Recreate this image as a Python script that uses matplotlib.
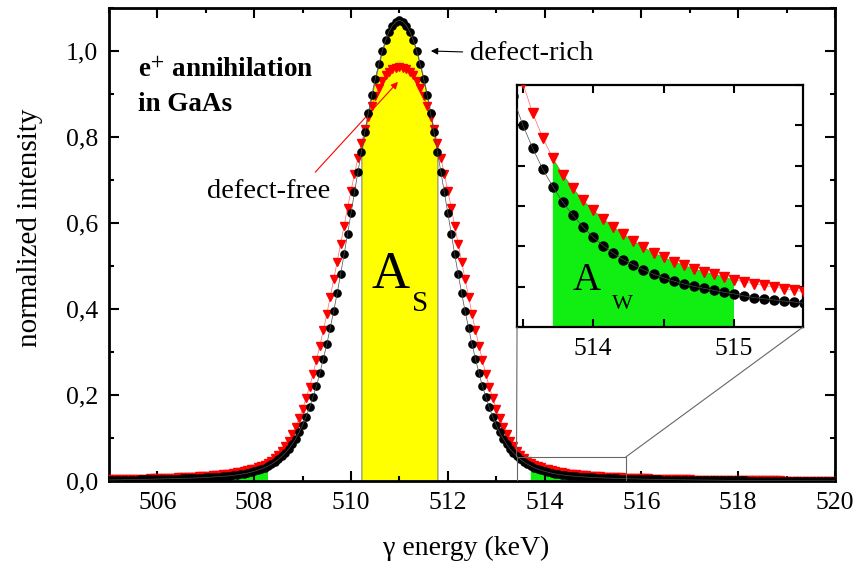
import numpy as np
import matplotlib.pyplot as plt
from matplotlib.patches import Rectangle, ConnectionPatch
from matplotlib.ticker import MultipleLocator, FuncFormatter, NullFormatter

plt.rcParams['font.family'] = ['Liberation Serif', 'DejaVu Serif']
plt.rcParams['mathtext.fontset'] = 'stix'

# Canais do espectro (keV), 14 canais por keV
e_first = 505.0
e_last = 520.0

# Intensidade normalizada - amostra rica em defeitos (círculos pretos)
defect_rich = [
    0.0024, 0.0025, 0.0026, 0.0027, 0.0028, 0.0030, 0.0031, 0.0032, 0.0034, 0.0035, 0.0037, 0.0038, 0.0040, 0.0042,
    0.0044, 0.0046, 0.0048, 0.0050, 0.0052, 0.0054, 0.0057, 0.0059, 0.0062, 0.0064, 0.0067, 0.0070, 0.0073, 0.0077,
    0.0082, 0.0086, 0.0091, 0.0096, 0.0101, 0.0107, 0.0114, 0.0122, 0.0131, 0.0142, 0.0154, 0.0167, 0.0183, 0.0202,
    0.0223, 0.0248, 0.0277, 0.0309, 0.0348, 0.0391, 0.0443, 0.0502, 0.0572, 0.0652, 0.0746, 0.0856, 0.0984, 0.113,
    0.130, 0.149, 0.171, 0.195, 0.221, 0.251, 0.284, 0.318, 0.356, 0.395, 0.437, 0.481, 0.527, 0.574,
    0.623, 0.671, 0.719, 0.766, 0.812, 0.856, 0.897, 0.935, 0.969, 0.999, 1.025, 1.045, 1.059, 1.068,
    1.071, 1.068, 1.059, 1.045, 1.025, 0.999, 0.969, 0.935, 0.897, 0.856, 0.812, 0.766, 0.719, 0.671,
    0.623, 0.574, 0.527, 0.481, 0.437, 0.395, 0.356, 0.318, 0.284, 0.251, 0.221, 0.195, 0.171, 0.149,
    0.130, 0.113, 0.0984, 0.0856, 0.0746, 0.0652, 0.0572, 0.0502, 0.0443, 0.0391, 0.0348, 0.0309, 0.0277, 0.0248,
    0.0223, 0.0202, 0.0183, 0.0167, 0.0154, 0.0142, 0.0131, 0.0122, 0.0114, 0.0107, 0.0101, 0.0096, 0.0091, 0.0086,
    0.0082, 0.0077, 0.0073, 0.0070, 0.0067, 0.0064, 0.0062, 0.0059, 0.0057, 0.0054, 0.0052, 0.0050, 0.0048, 0.0046,
    0.0044, 0.0042, 0.0040, 0.0038, 0.0037, 0.0035, 0.0034, 0.0032, 0.0031, 0.0030, 0.0028, 0.0027, 0.0026, 0.0025,
    0.0024, 0.0023, 0.0022, 0.0021, 0.0020, 0.0019, 0.0018, 0.0018, 0.0017, 0.0016, 0.0015, 0.0015, 0.0014, 0.0014,
    0.0013, 0.0012, 0.0012, 0.0011, 0.0011, 0.0010, 0.0010, 0.0009, 0.0009, 0.0009, 0.0008, 0.0008, 0.0007, 0.0007,
    0.0007, 0.0007, 0.0006, 0.0006, 0.0006, 0.0005, 0.0005, 0.0005, 0.0005, 0.0005, 0.0004, 0.0004, 0.0004, 0.0004,
    0.0004,
]

# Intensidade normalizada - amostra livre de defeitos (triângulos vermelhos)
defect_free = [
    0.0035, 0.0037, 0.0038, 0.0040, 0.0042, 0.0044, 0.0046, 0.0048, 0.0050, 0.0052, 0.0054, 0.0057, 0.0059, 0.0062,
    0.0064, 0.0067, 0.0070, 0.0073, 0.0076, 0.0080, 0.0083, 0.0087, 0.0091, 0.0095, 0.0099, 0.0103, 0.0107, 0.0112,
    0.0117, 0.0124, 0.0131, 0.0137, 0.0145, 0.0153, 0.0162, 0.0173, 0.0184, 0.0198, 0.0214, 0.0230, 0.0248, 0.0268,
    0.0290, 0.0314, 0.0344, 0.0378, 0.0418, 0.0469, 0.0530, 0.0606, 0.0697, 0.0806, 0.0935, 0.1085, 0.1257, 0.1455,
    0.1675, 0.192, 0.219, 0.248, 0.281, 0.315, 0.350, 0.388, 0.428, 0.469, 0.510, 0.552, 0.593, 0.635,
    0.675, 0.714, 0.751, 0.785, 0.818, 0.847, 0.873, 0.896, 0.915, 0.931, 0.943, 0.952, 0.958, 0.961,
    0.962, 0.961, 0.958, 0.952, 0.943, 0.931, 0.915, 0.896, 0.873, 0.847, 0.818, 0.785, 0.751, 0.714,
    0.675, 0.635, 0.593, 0.552, 0.510, 0.469, 0.428, 0.388, 0.350, 0.315, 0.281, 0.248, 0.219, 0.192,
    0.1675, 0.1455, 0.1257, 0.1085, 0.0935, 0.0806, 0.0697, 0.0606, 0.0530, 0.0469, 0.0418, 0.0378, 0.0344, 0.0314,
    0.0290, 0.0268, 0.0248, 0.0230, 0.0214, 0.0198, 0.0184, 0.0173, 0.0162, 0.0153, 0.0145, 0.0137, 0.0131, 0.0124,
    0.0117, 0.0112, 0.0107, 0.0103, 0.0099, 0.0095, 0.0091, 0.0087, 0.0083, 0.0080, 0.0076, 0.0073, 0.0070, 0.0067,
    0.0064, 0.0062, 0.0059, 0.0057, 0.0054, 0.0052, 0.0050, 0.0048, 0.0046, 0.0044, 0.0042, 0.0040, 0.0038, 0.0037,
    0.0035, 0.0034, 0.0032, 0.0031, 0.0030, 0.0028, 0.0027, 0.0026, 0.0025, 0.0024, 0.0023, 0.0022, 0.0021, 0.0020,
    0.0019, 0.0019, 0.0018, 0.0017, 0.0016, 0.0016, 0.0015, 0.0014, 0.0014, 0.0013, 0.0013, 0.0012, 0.0012, 0.0011,
    0.0011, 0.0010, 0.0010, 0.0009, 0.0009, 0.0009, 0.0008, 0.0008, 0.0008, 0.0007, 0.0007, 0.0007, 0.0006, 0.0006,
    0.0006,
]

# Janelas dos parâmetros S e W (keV)
s_window = (510.2, 511.8)
w_windows = [(507.0, 508.3), (513.7, 515.0)]

energy = np.linspace(e_first, e_last, len(defect_rich))
rich = np.array(defect_rich)
free = np.array(defect_free)

fig = plt.figure(figsize=(8.61, 5.69), dpi=100)
ax = fig.add_axes([0.1266, 0.1547, 0.8432, 0.8313])


def draw_spectrum(a, ms_o, ms_v):
    in_s = (energy >= s_window[0]) & (energy <= s_window[1])
    a.fill_between(energy, 0, rich, where=in_s, facecolor='#ffff00',
                   edgecolor='0.45', lw=0.7, zorder=1)
    for lo, hi in w_windows:
        m = (energy >= lo) & (energy <= hi)
        a.fill_between(energy, 0, free, where=m, facecolor='#11ee11',
                       lw=0, zorder=1)
    a.plot(energy, free, 'v', color='red', ms=ms_v, zorder=3)
    a.plot(energy, free, '-', color='red', lw=0.5, alpha=0.6, zorder=3)
    a.plot(energy, rich, 'o', color='black', ms=ms_o, zorder=4)
    a.plot(energy, rich, '-', color='0.3', lw=0.5, zorder=4)


draw_spectrum(ax, 5.2, 5.5)

ax.set_xlim(505, 520)
ax.set_ylim(0, 1.10)
ax.xaxis.set_major_locator(MultipleLocator(2))
ax.xaxis.set_minor_locator(MultipleLocator(1))
ax.yaxis.set_major_locator(MultipleLocator(0.2))
ax.yaxis.set_minor_locator(MultipleLocator(0.1))
ax.yaxis.set_major_formatter(FuncFormatter(lambda v, p: f'{v:.1f}'.replace('.', ',')))
ax.tick_params(which='both', direction='in', top=True, right=True, width=1.5,
               labelsize=18.5, pad=8)
ax.tick_params(which='major', length=7)
ax.tick_params(which='minor', length=3.5)
for sp in ax.spines.values():
    sp.set_linewidth(2)

ax.set_xlabel('γ energy (keV)', fontsize=20, va='center')
ax.xaxis.set_label_coords(0.492, -0.142)
ax.set_ylabel('normalized intensity', fontsize=21, va='center')
ax.yaxis.set_label_coords(-0.109, 0.535)

# textos
ax.text(505.6, 0.939, r'e$^{+}$ annihilation', fontsize=19.5, fontweight='bold')
ax.text(505.6, 0.860, 'in GaAs', fontsize=19.5, fontweight='bold')
ax.text(510.81, 0.48, 'A', fontsize=38, ha='center', va='center')
ax.text(511.43, 0.412, 'S', fontsize=21, ha='center', va='center')

ax.annotate('defect-rich', xy=(511.65, 1.0), xytext=(512.45, 0.993),
            fontsize=20.5, ha='left', va='center',
            arrowprops=dict(arrowstyle='-|>', color='black', lw=0.8,
                            mutation_scale=10, shrinkA=3, shrinkB=0))
ax.text(508.3, 0.674, 'defect-free', fontsize=20.5, ha='center', va='center')
ax.annotate('', xy=(510.97, 0.928), xytext=(509.26, 0.718),
            arrowprops=dict(arrowstyle='-|>', color='red', lw=0.8,
                            mutation_scale=10, shrinkA=0, shrinkB=0))

# inset com a região W
axins = fig.add_axes([0.6005, 0.4253, 0.3322, 0.4253])
draw_spectrum(axins, 6.5, 7.5)
axins.set_xlim(513.46, 515.49)
axins.set_ylim(0, 0.06)
axins.xaxis.set_major_locator(MultipleLocator(1))
axins.xaxis.set_minor_locator(MultipleLocator(0.5))
axins.yaxis.set_major_locator(MultipleLocator(0.01))
axins.yaxis.set_major_formatter(NullFormatter())
axins.tick_params(which='both', direction='in', top=True, right=True, width=1.5,
                  length=6, labelsize=18.5, pad=8)
for sp in axins.spines.values():
    sp.set_linewidth(1.6)
axins.text(513.957, 0.01165, 'A', fontsize=28, ha='center', va='center')
axins.text(514.21, 0.0057, 'W', fontsize=16, ha='center', va='center')

# retângulo de zoom e linhas de ligação
zoom_box = (513.42, 515.68, 0.056)
ax.add_patch(Rectangle((zoom_box[0], 0), zoom_box[1] - zoom_box[0], zoom_box[2],
                       fill=False, ec='0.4', lw=0.8, zorder=5))
for xa, xb in [(zoom_box[0], 0), (zoom_box[1], 1)]:
    con = ConnectionPatch(xyA=(xa, zoom_box[2]), coordsA='data', axesA=ax,
                          xyB=(xb, 0), coordsB='axes fraction', axesB=axins,
                          color='0.4', lw=0.8)
    fig.add_artist(con)

fig.savefig('out.png', dpi=100)
